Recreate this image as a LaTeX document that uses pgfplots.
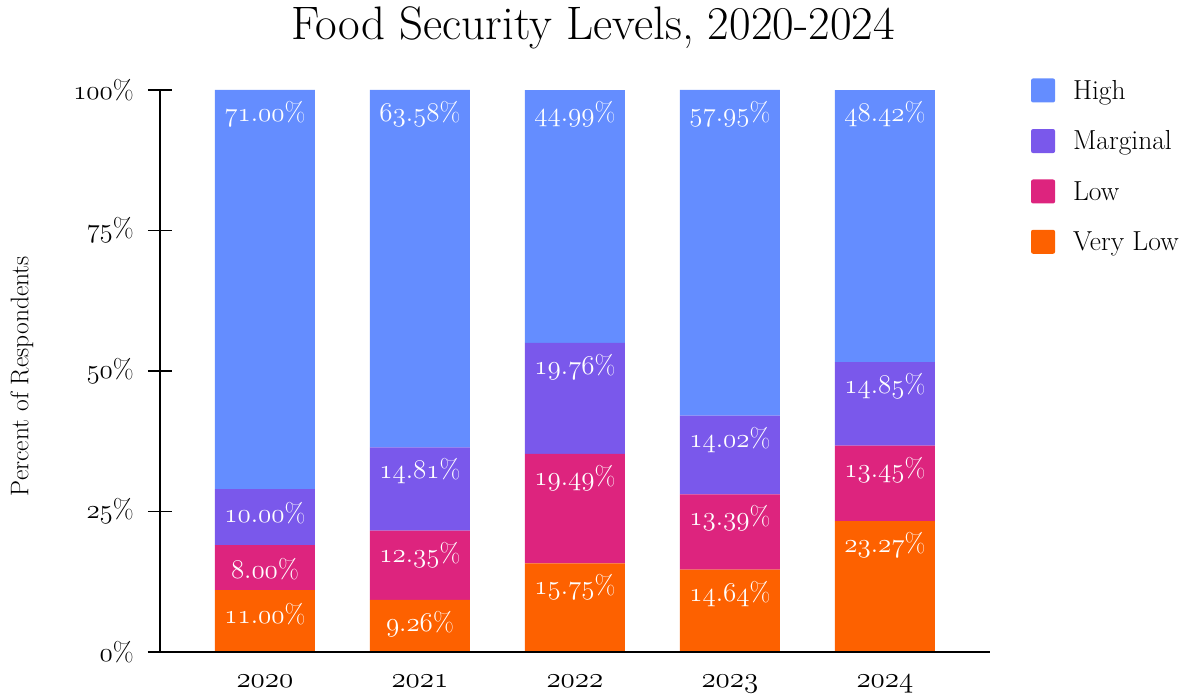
\RequirePackage{fix-cm}
\documentclass[border=0pt]{standalone}
\usepackage{pgfplots}
\pgfplotsset{compat=1.18}
\definecolor{cHigh}{RGB}{100,141,255}
\definecolor{cMarg}{RGB}{122,88,235}
\definecolor{cLow}{RGB}{221,36,126}
\definecolor{cVL}{RGB}{253,97,0}
\newcommand{\osn}[1]{$\mathnormal{#1}$}
\begin{document}
\begin{tikzpicture}
\useasboundingbox (-160pt,-44pt) rectangle (1027pt,652pt);
\begin{axis}[
  at={(0pt,0pt)}, anchor=south west,
  x=155pt, y=5.62pt,
  xmin=-0.677, xmax=4.677, ymin=0, ymax=100,
  enlargelimits=false, clip=false, axis on top=true,
  axis lines=left,
  axis line style={-, line width=2pt},
  x axis line style={shorten <=-12pt},
  ybar stacked, bar width=100pt,
  xtick={0,1,2,3,4},
  xticklabels={\osn{2020},\osn{2021},\osn{2022},\osn{2023},\osn{2024}},
  ytick={0,25,50,75,100},
  yticklabels={\osn{0}\%,\osn{25}\%,\osn{50}\%,\osn{75}\%,\osn{100}\%},
  xtick style={draw=none},
  ytick style={line width=1.6pt, black},
  tick align=center, major tick length=24pt,
  tick label style={font=\fontsize{27}{32}\selectfont},
  yticklabel style={anchor=east, inner sep=0pt, xshift=-14pt},
  xticklabel style={anchor=base, inner sep=0pt, yshift=-24pt, font=\fontsize{29}{34}\selectfont},
  point meta=rawy,
  visualization depends on={rawy \as \segval},
  nodes near coords={\osn{\pgfmathprintnumber[fixed,fixed zerofill,precision=2]{\pgfplotspointmeta}}\%},
  nodes near coords style={font=\fontsize{27}{32}\selectfont, text=white, anchor=center,
    yshift={\segval*2.81pt-24pt}},
  title={Food Security Levels, 2020-2024},
  title style={at={(axis description cs:0.5217,1.080)}, anchor=base, font=\fontsize{47}{54}\selectfont},
  ylabel={Percent of Respondents},
  ylabel style={at={(axis description cs:-0.1663,0.491)}, anchor=center, font=\fontsize{25.5}{30}\selectfont},
  legend style={at={(axis description cs:1.0494,1.0214)}, anchor=north west, draw=none, fill=none,
    font=\fontsize{27.5}{32}\selectfont, row sep=26pt, cells={anchor=west}, inner sep=0pt,
    /tikz/every odd column/.append style={column sep=16pt}},
  legend image code/.code={\fill[#1,draw=none,rounded corners=2pt] (0pt,-12pt) rectangle (24pt,12pt);},
  reverse legend,
]
\addplot[fill=cVL, draw=none] coordinates {(0,11.00) (1,9.26) (2,15.75) (3,14.64) (4,23.27)};
\addlegendentry{Very Low}
\addplot[fill=cLow, draw=none] coordinates {(0,8.00) (1,12.35) (2,19.49) (3,13.39) (4,13.45)};
\addlegendentry{Low}
\addplot[fill=cMarg, draw=none] coordinates {(0,10.00) (1,14.81) (2,19.76) (3,14.02) (4,14.85)};
\addlegendentry{Marginal}
\addplot[fill=cHigh, draw=none] coordinates {(0,71.00) (1,63.58) (2,44.99) (3,57.95) (4,48.42)};
\addlegendentry{High}
\end{axis}
\end{tikzpicture}
\end{document}
